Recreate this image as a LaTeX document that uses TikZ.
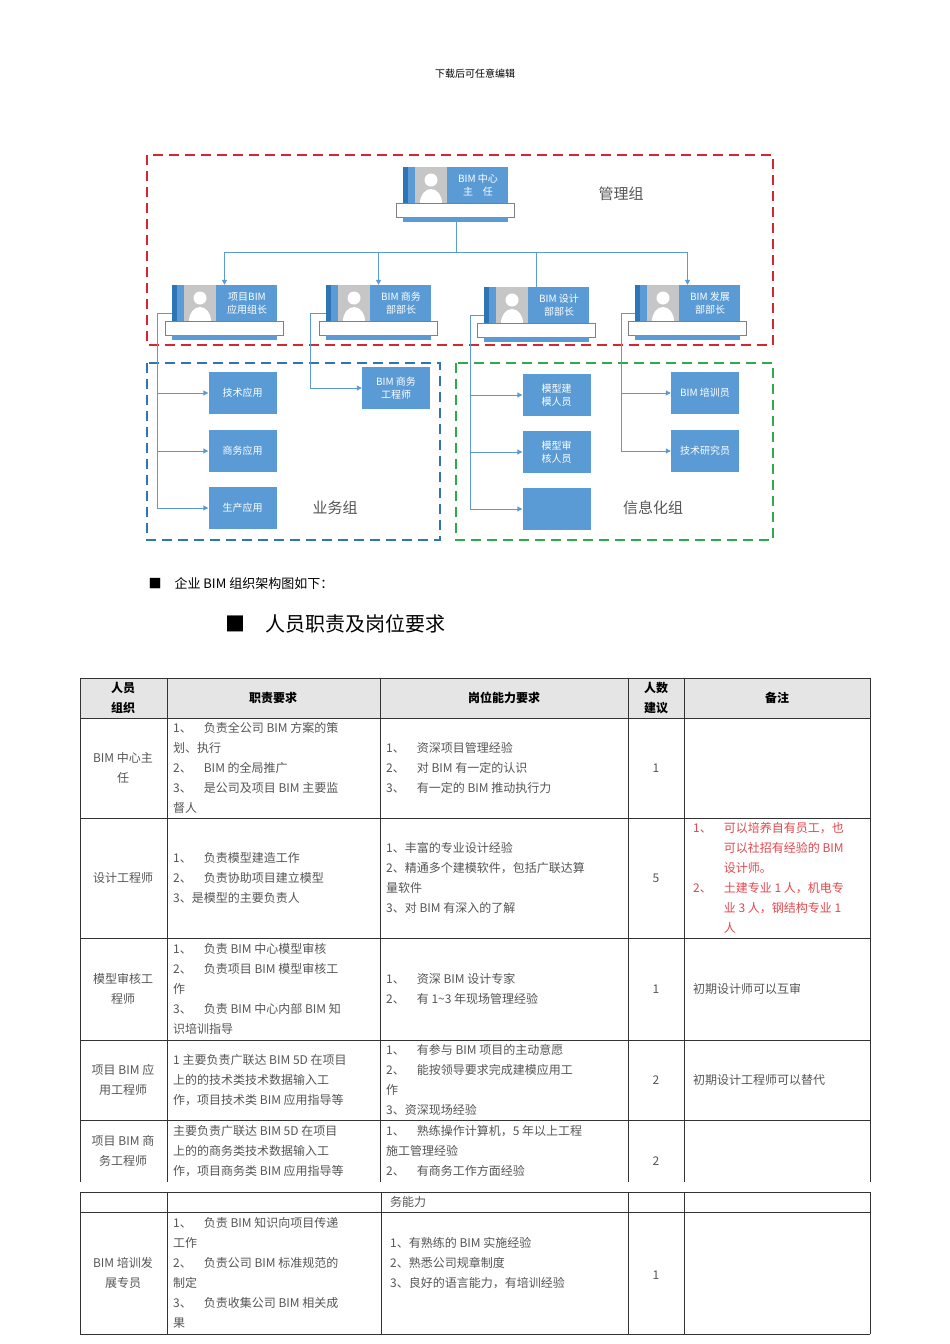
\documentclass[tikz,border=0pt]{standalone}
\usepackage{fontspec}
\setmainfont{Noto Sans CJK SC}
\usetikzlibrary{arrows.meta}
\definecolor{bfill}{HTML}{5B9BD5}
\definecolor{bdark}{HTML}{2E75B6}
\definecolor{tgray}{HTML}{555555}
\definecolor{rline}{HTML}{D9262C}
\definecolor{bline}{HTML}{2E75B6}
\definecolor{gline}{HTML}{2EAA4A}
\definecolor{rtext}{HTML}{E0474C}
\newcommand\mgrbox[4]{%
 \fill[bfill] (#1,#2) rectangle ++(105,36);
 \fill[bdark] (#1,#2) rectangle ++(5,36);
 \fill[gray!45] (#1+12,#2) rectangle ++(32,36);
 \fill[white] (#1+28,#2+13) circle (6.5);
 \fill[white] (#1+17,#2+36) arc[start angle=180,end angle=360,x radius=11,y radius=14] -- cycle;
 \node[white,font=\fontsize{10}{13}\selectfont,align=center] at (#1+75,#2+18) {#4};
 \draw[gray,fill=white] (#1-7,#2+36) rectangle ++(118,14);
 \fill[bfill] (#1,#2+50) rectangle ++(105,5);
 \node[inner sep=0,minimum width=105pt,minimum height=36pt] (#3) at (#1+52.5,#2+18) {};
}
\tikzset{
 conn/.style={draw=bfill,line width=1pt},
 arr/.style={conn,-{Triangle[length=5pt,width=5pt]}},
 cbox/.style={fill=bfill,text=white,minimum width=68pt,minimum height=42pt,inner sep=0,font=\fontsize{10}{13}\selectfont,align=center},
 grp/.style={line width=1.5pt,dash pattern=on 10pt off 6pt},
 glabel/.style={font=\fontsize{15}{18}\selectfont,text=tgray},
 cell/.style={font=\fontsize{12}{20}\selectfont,align=left,anchor=west,inner sep=0,text=tgray},
 ccell/.style={font=\fontsize{12}{20}\selectfont,align=center,inner sep=0,text=tgray},
 hcell/.style={font=\bfseries\fontsize{12}{20}\selectfont,align=center,inner sep=0,text=black},
 tl/.style={draw=black!80,line width=0.8pt}
}
\begin{document}
\begin{tikzpicture}[x=1pt,y=-1pt]
\useasboundingbox (0,0) rectangle (950,1344);
\node[font=\fontsize{10}{12}\selectfont] (hdr) at (475,74) {下载后可任意编辑};
% groups
\draw[grp,rline] (147,155) rectangle (773,345);
\draw[grp,bline] (147,363) rectangle (440,540);
\draw[grp,gline] (456,363) rectangle (773,540);
\node[glabel] (g1) at (621,194) {管理组};
\node[glabel] (g2) at (335,508) {业务组};
\node[glabel] (g3) at (653,508) {信息化组};
% top
\mgrbox{403}{167}{top}{BIM 中心\\主\quad 任}
\mgrbox{172}{285}{m1}{项目BIM\\应用组长}
\mgrbox{326}{285}{m2}{BIM 商务\\部部长}
\mgrbox{484}{287}{m3}{BIM 设计\\部部长}
\mgrbox{635}{285}{m4}{BIM 发展\\部部长}
\coordinate (topbot) at (456,222);
\coordinate (bus) at (456,252);
\draw[conn] (topbot) -- (bus);
\draw[conn] (m1 |- bus) -- (m4 |- bus);
\draw[arr] (m1 |- bus) -- (m1.north);
\draw[arr] (m2 |- bus) -- (m2.north);
\draw[conn] (m3 |- bus) -- (m3.north);
\draw[arr] (m4 |- bus) -- (m4.north);
% children
\node[cbox] (t1) at (242.5,393) {技术应用};
\node[cbox] (t2) at (242.5,451) {商务应用};
\node[cbox] (t3) at (242.5,508) {生产应用};
\node[cbox] (b1) at (396,388) {BIM 商务\\工程师};
\node[cbox] (d1) at (556.5,395) {模型建\\模人员};
\node[cbox] (d2) at (556.5,452) {模型审\\核人员};
\node[cbox] (d3) at (556.5,509) {};
\node[cbox] (e1) at (705,393) {BIM 培训员};
\node[cbox] (e2) at (705,451) {技术研究员};
\coordinate (a1) at (157,313);
\coordinate (a2) at (310,313);
\coordinate (a3) at (470,315);
\coordinate (a4) at (621,313);
\draw[conn] (m1.west |- a1) -- (a1) -- (a1 |- t3);
\draw[arr] (a1 |- t1) -- (t1.west);
\draw[arr] (a1 |- t2) -- (t2.west);
\draw[arr] (a1 |- t3) -- (t3.west);
\draw[conn] (m2.west |- a2) -- (a2);
\draw[arr] (a2) |- (b1.west);
\draw[conn] (m3.west |- a3) -- (a3) -- (a3 |- d3);
\draw[arr] (a3 |- d1) -- (d1.west);
\draw[arr] (a3 |- d2) -- (d2.west);
\draw[arr] (a3 |- d3) -- (d3.west);
\draw[conn] (m4.west |- a4) -- (a4) -- (a4 |- e2);
\draw[arr] (a4 |- e1) -- (e1.west);
\draw[arr] (a4 |- e2) -- (e2.west);
% headings
\node[anchor=west,font=\fontsize{13}{15}\selectfont] (h1) at (145,584) {■\quad 企业 BIM 组织架构图如下：};
\node[anchor=west,font=\fontsize{20}{24}\selectfont] (h2) at (222,624) {■\quad 人员职责及岗位要求};
% table 1
\fill[gray!20] (80,678) rectangle (870,718);
\foreach \y in {678,718,818,938,1040,1120} \draw[tl] (80,\y) -- (870,\y);
\foreach \x in {80,167,380,628,684,870} \draw[tl] (\x,678) -- (\x,1182);
\node[hcell] (h11) at (123,698) {人员\\组织};
\node[hcell] (h12) at (273,698) {职责要求};
\node[hcell] (h13) at (504,698) {岗位能力要求};
\node[hcell] (h14) at (656,698) {人数\\建议};
\node[hcell] (h15) at (777,698) {备注};
% row1
\node[ccell] (r11) at (123,768) {BIM 中心主\\任};
\node[cell] (r12) at (173,768) {1、\quad 负责全公司 BIM 方案的策\\划、执行\\2、\quad BIM 的全局推广\\3、\quad 是公司及项目 BIM 主要监\\督人};
\node[cell] (r13) at (386,768) {1、\quad 资深项目管理经验\\2、\quad 对 BIM 有一定的认识\\3、\quad 有一定的 BIM 推动执行力};
\node[ccell] (r14) at (656,768) {1};
% row2
\node[ccell] (r21) at (123,878) {设计工程师};
\node[cell] (r22) at (173,878) {1、\quad 负责模型建造工作\\2、\quad 负责协助项目建立模型\\3、是模型的主要负责人};
\node[cell] (r23) at (386,878) {1、丰富的专业设计经验\\2、精通多个建模软件，包括广联达算\\量软件\\3、对 BIM 有深入的了解};
\node[ccell] (r24) at (656,878) {5};
\node[cell,text=rtext] (r25) at (693,878) {1、\quad 可以培养自有员工，也\\\hphantom{1、\quad }可以社招有经验的 BIM\\\hphantom{1、\quad }设计师。\\2、\quad 土建专业 1 人，机电专\\\hphantom{1、\quad }业 3 人，钢结构专业 1\\\hphantom{1、\quad }人};
% row3
\node[ccell] (r31) at (123,989) {模型审核工\\程师};
\node[cell] (r32) at (173,989) {1、\quad 负责 BIM 中心模型审核\\2、\quad 负责项目 BIM 模型审核工\\作\\3、\quad 负责 BIM 中心内部 BIM 知\\识培训指导};
\node[cell] (r33) at (386,989) {1、\quad 资深 BIM 设计专家\\2、\quad 有 1\textasciitilde 3 年现场管理经验};
\node[ccell] (r34) at (656,989) {1};
\node[cell] (r35) at (693,989) {初期设计师可以互审};
% row4
\node[ccell] (r41) at (123,1080) {项目 BIM 应\\用工程师};
\node[cell] (r42) at (173,1080) {1 主要负责广联达 BIM 5D 在项目\\上的的技术类技术数据输入工\\作，项目技术类 BIM 应用指导等};
\node[cell] (r43) at (386,1080) {1、\quad 有参与 BIM 项目的主动意愿\\2、\quad 能按领导要求完成建模应用工\\作\\3、资深现场经验};
\node[ccell] (r44) at (656,1080) {2};
\node[cell] (r45) at (693,1080) {初期设计工程师可以替代};
% row5
\node[ccell] (r51) at (123,1151) {项目 BIM 商\\务工程师};
\node[cell] (r52) at (173,1151) {主要负责广联达 BIM 5D 在项目\\上的的商务类技术数据输入工\\作，项目商务类 BIM 应用指导等};
\node[cell] (r53) at (386,1151) {1、\quad 熟练操作计算机，5 年以上工程\\施工管理经验\\2、\quad 有商务工作方面经验};
\node[ccell] (r54) at (656,1161) {2};
% table 2
\foreach \y in {1192,1212,1334} \draw[tl] (80,\y) -- (870,\y);
\foreach \x in {80,167,381,628,684,870} \draw[tl] (\x,1192) -- (\x,1334);
\node[cell] (s13) at (390,1202) {务能力};
\node[ccell] (s21) at (123,1273) {BIM 培训发\\展专员};
\node[cell] (s22) at (173,1273) {1、\quad 负责 BIM 知识向项目传递\\工作\\2、\quad 负责公司 BIM 标准规范的\\制定\\3、\quad 负责收集公司 BIM 相关成\\果};
\node[cell] (s23) at (390,1263) {1、有熟练的 BIM 实施经验\\2、熟悉公司规章制度\\3、良好的语言能力，有培训经验};
\node[ccell] (s24) at (656,1275) {1};
\end{tikzpicture}
\end{document}
